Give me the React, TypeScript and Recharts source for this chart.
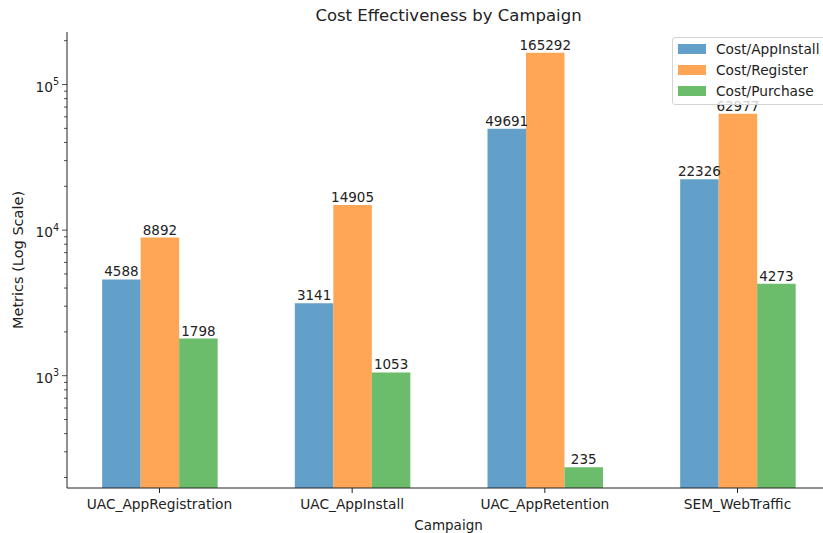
import React from "react";
import {
  ComposedChart,
  Bar,
  XAxis,
  YAxis,
  LabelList,
  Legend,
} from "recharts";

const campaigns = [
  "UAC_AppRegistration",
  "UAC_AppInstall",
  "UAC_AppRetention",
  "SEM_WebTraffic",
];
const costPerInstall = [4588, 3141, 49691, 22326];
const costPerRegister = [8892, 14905, 165292, 62977];
const costPerPurchase = [1798, 1053, 235, 4273];

const seriesNames = ["Cost/AppInstall", "Cost/Register", "Cost/Purchase"];
// tab10 colours at alpha 0.7 on white
const COLORS = ["#62a0ca", "#ffa556", "#6bbc6b"];

const xTicks = [0, 1, 2, 3];
const majorTicks = [1000, 10000, 100000];
const yTicks = [
  200, 300, 400, 500, 600, 700, 800, 900,
  1000, 2000, 3000, 4000, 5000, 6000, 7000, 8000, 9000,
  10000, 20000, 30000, 40000, 50000, 60000, 70000, 80000, 90000,
  100000, 200000,
];

const data = campaigns.map((name, i) => ({
  idx: i,
  name,
  install: costPerInstall[i],
  register: costPerRegister[i],
  purchase: costPerPurchase[i],
}));

const FONT = "DejaVu Sans, sans-serif";
const INK = "#222";
const FS = 13.75;

const LogTick = (props: any) => {
  const { x, y, payload } = props;
  const v = payload.value;
  const major = majorTicks.includes(v);
  const exp = Math.round(Math.log10(v));
  return (
    <g>
      <line x1={x - (major ? 5 : 3)} x2={x} y1={y} y2={y} stroke={INK} strokeWidth={0.8} />
      {major && (
        <text x={x - 8} y={y + 7} textAnchor="end" fontSize={FS} fill={INK} fontFamily={FONT}>
          10
          <tspan dy={-6.5} fontSize={9.6}>
            {exp}
          </tspan>
        </text>
      )}
    </g>
  );
};

const LegendBox = () => (
  <div
    style={{
      border: "1px solid #d4d4d4",
      borderRadius: 3,
      background: "rgba(255,255,255,0.8)",
      padding: "0 30px 3px 5px",
      fontFamily: FONT,
      fontSize: FS,
      color: INK,
    }}
  >
    {seriesNames.map((n, i) => (
      <div key={n} style={{ display: "flex", alignItems: "center", height: 21 }}>
        <div style={{ width: 28, height: 10, background: COLORS[i], marginRight: 10 }} />
        <span>{n}</span>
      </div>
    ))}
  </div>
);

export default function App() {
  return (
    <div
      style={{
        position: "absolute",
        left: 0,
        top: 0,
        width: 823,
        height: 533,
        overflow: "hidden",
        background: "#fff",
        fontFamily: FONT,
      }}
    >
      <div
        style={{
          position: "absolute",
          top: 6,
          left: 67,
          width: 763,
          textAlign: "center",
          fontSize: 16.5,
          lineHeight: "20px",
          color: INK,
        }}
      >
        Cost Effectiveness by Campaign
      </div>
      <ComposedChart
        width={840}
        height={533}
        data={data}
        barGap={0}
        margin={{ top: 32, right: 10, bottom: 0, left: 0 }}
      >
        <XAxis
          dataKey="idx"
          type="number"
          domain={[-0.48, 3.48]}
          allowDataOverflow
          ticks={xTicks}
          interval={0}
          tickFormatter={(i: number) => campaigns[i]}
          height={45}
          tickSize={5}
          tickMargin={6}
          tick={{ fontSize: FS, fill: INK, fontFamily: FONT }}
          tickLine={{ stroke: INK }}
          axisLine={{ stroke: INK }}
          label={{
            value: "Campaign",
            position: "insideBottom",
            offset: 3,
            fontSize: 13.5,
            fill: INK,
            fontFamily: FONT,
          }}
        />
        <XAxis
          xAxisId="top"
          orientation="top"
          dataKey="idx"
          type="number"
          domain={[-0.48, 3.48]}
          allowDataOverflow
          height={0}
          tick={false}
          tickLine={false}
          axisLine={{ stroke: INK }}
        />
        <YAxis
          type="number"
          scale="log"
          domain={[169.3, 229500]}
          allowDataOverflow
          ticks={yTicks}
          interval={0}
          width={67}
          tickSize={0}
          tickMargin={0}
          tickLine={false}
          tick={(p: any) => <LogTick {...p} />}
          axisLine={{ stroke: INK }}
          label={{
            value: "Metrics (Log Scale)",
            angle: -90,
            position: "insideLeft",
            offset: 18,
            fontSize: 14.5,
            fill: INK,
            fontFamily: FONT,
            style: { textAnchor: "middle" },
          }}
        />
        <Legend
          layout="vertical"
          align="center"
          verticalAlign="middle"
          wrapperStyle={{ top: 37, left: 672, right: "auto", bottom: "auto", width: "auto" }}
          content={() => <LegendBox />}
        />
        <Bar dataKey="install" name={seriesNames[0]} fill={COLORS[0]} barSize={38.5} isAnimationActive={false}>
          <LabelList dataKey="install" position="top" offset={3} fill={INK} fontSize={13.5} fontFamily={FONT} />
        </Bar>
        <Bar dataKey="register" name={seriesNames[1]} fill={COLORS[1]} barSize={38.5} isAnimationActive={false}>
          <LabelList dataKey="register" position="top" offset={3} fill={INK} fontSize={13.5} fontFamily={FONT} />
        </Bar>
        <Bar dataKey="purchase" name={seriesNames[2]} fill={COLORS[2]} barSize={38.5} isAnimationActive={false}>
          <LabelList dataKey="purchase" position="top" offset={3} fill={INK} fontSize={13.5} fontFamily={FONT} />
        </Bar>
      </ComposedChart>
    </div>
  );
}
